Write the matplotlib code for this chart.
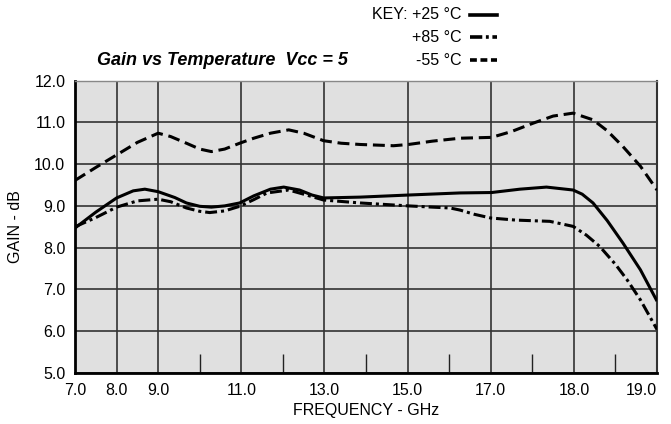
import matplotlib
matplotlib.use("Agg")
import matplotlib.pyplot as plt
from matplotlib.lines import Line2D

plt.rcParams['font.family'] = ['Liberation Sans', 'DejaVu Sans']

# x is in chart grid units (the printed frequency labels are not evenly spaced)
tick_pos = [0, 0.5, 1, 2, 3, 4, 5, 6, 7]
tick_lab = ['7.0', '8.0', '9.0', '11.0', '13.0', '15.0', '17.0', '18.0', '19.0']
minor_pos = [1.5, 2.5, 3.5, 4.5, 5.5, 6.5]

# -55 C
x_m55 = [0, 0.25, 0.5, 0.75, 1.0, 1.15, 1.34, 1.5, 1.64, 1.8, 1.98, 2.15, 2.35, 2.57,
         2.75, 2.99, 3.2, 3.43, 3.83, 4.01, 4.3, 4.63, 5.01, 5.25, 5.51, 5.75, 5.99,
         6.23, 6.4, 6.59, 6.8, 7.0]
g_m55 = [9.61, 9.92, 10.22, 10.52, 10.74, 10.66, 10.50, 10.36, 10.30, 10.36, 10.50,
         10.62, 10.74, 10.82, 10.74, 10.56, 10.50, 10.47, 10.44, 10.47, 10.55, 10.62,
         10.64, 10.78, 10.98, 11.15, 11.22, 11.06, 10.80, 10.42, 9.95, 9.38]

# +25 C
x_p25 = [0, 0.25, 0.5, 0.7, 0.84, 1.0, 1.2, 1.34, 1.5, 1.64, 1.8, 1.98, 2.15, 2.35,
         2.51, 2.7, 2.85, 2.99, 3.43, 4.01, 4.63, 5.01, 5.35, 5.67, 5.99, 6.1, 6.23,
         6.4, 6.59, 6.8, 7.0]
g_p25 = [8.47, 8.85, 9.19, 9.36, 9.40, 9.34, 9.20, 9.07, 8.99, 8.97, 9.00, 9.07, 9.24,
         9.40, 9.45, 9.38, 9.26, 9.19, 9.21, 9.26, 9.31, 9.32, 9.40, 9.45, 9.38, 9.28,
         9.07, 8.65, 8.11, 7.47, 6.72]

# +85 C
x_p85 = [0, 0.25, 0.5, 0.75, 1.0, 1.15, 1.34, 1.5, 1.62, 1.8, 1.98, 2.15, 2.31, 2.57,
         2.75, 2.99, 3.43, 4.01, 4.3, 4.51, 4.63, 4.8, 5.0, 5.3, 5.71, 5.99, 6.15, 6.31,
         6.5, 6.64, 6.8, 7.0]
g_p85 = [8.50, 8.72, 8.97, 9.12, 9.16, 9.10, 8.95, 8.87, 8.84, 8.88, 8.99, 9.15, 9.31,
         9.38, 9.28, 9.14, 9.07, 9.00, 8.97, 8.95, 8.90, 8.80, 8.71, 8.66, 8.63, 8.51,
         8.30, 8.03, 7.60, 7.23, 6.75, 6.04]

fig = plt.figure(figsize=(6.71, 4.24), dpi=100)
ax = fig.add_axes([0.1118, 0.1203, 0.8674, 0.6897])
ax.set_facecolor('#e0e0e0')

lw = 2.2
dash = (0, (3.9, 1.9))
dashdot = (0, (3.9, 1.3, 1.0, 1.3))
ax.plot(x_p25, g_p25, color='black', lw=lw, solid_capstyle='butt', zorder=3)
ax.plot(x_p85, g_p85, color='black', lw=lw, linestyle=dashdot, zorder=3)
ax.plot(x_m55, g_m55, color='black', lw=lw, linestyle=dash, zorder=3)

ax.set_xlim(0, 7)
ax.set_ylim(5, 12)
ax.set_xticks(tick_pos)
ax.set_xticklabels(tick_lab)
ax.get_xticklabels()[-1].set_horizontalalignment('right')
ax.set_xticks(minor_pos, minor=True)
ax.set_yticks([5, 6, 7, 8, 9, 10, 11, 12])
ax.set_yticklabels(['%.1f' % v for v in [5, 6, 7, 8, 9, 10, 11, 12]])
ax.grid(True, which='major', color='#333333', lw=1.2)
ax.set_axisbelow(True)
ax.tick_params(axis='both', which='major', length=0, labelsize=11.5, pad=7)
ax.tick_params(axis='x', which='minor', direction='in', length=14, width=1, color='#222222')
ax.tick_params(axis='y', which='minor', length=0)

for s in ['left', 'bottom']:
    ax.spines[s].set_linewidth(2)
    ax.spines[s].set_color('black')
ax.spines['right'].set_linewidth(1.5)
ax.spines['right'].set_color('#333333')
ax.spines['top'].set_linewidth(1)
ax.spines['top'].set_color('#888888')

ax.set_xlabel('FREQUENCY - GHz', fontsize=11.5, labelpad=4)
ax.set_ylabel('GAIN - dB', fontsize=11.5, labelpad=8)

fig.text(0.332, 0.858, 'Gain vs Temperature  Vcc = 5', fontsize=13,
         fontweight='bold', style='italic', ha='center', va='center')

# key in top right
keys = [('KEY: +25 °C', '-'),
        ('+85 °C', (0, (3.4, 1.0, 0.8, 1.0))),
        ('-55 °C', (0, (1.9, 1.0)))]
rows = [0.965, 0.912, 0.858]
for (lab, ls), yy in zip(keys, rows):
    fig.text(0.688, yy, lab, fontsize=11.5, ha='right', va='center')
    fig.add_artist(Line2D([0.700, 0.741], [yy, yy], transform=fig.transFigure,
                          color='black', lw=2.6, linestyle=ls))

fig.savefig('out.png', dpi=100)
